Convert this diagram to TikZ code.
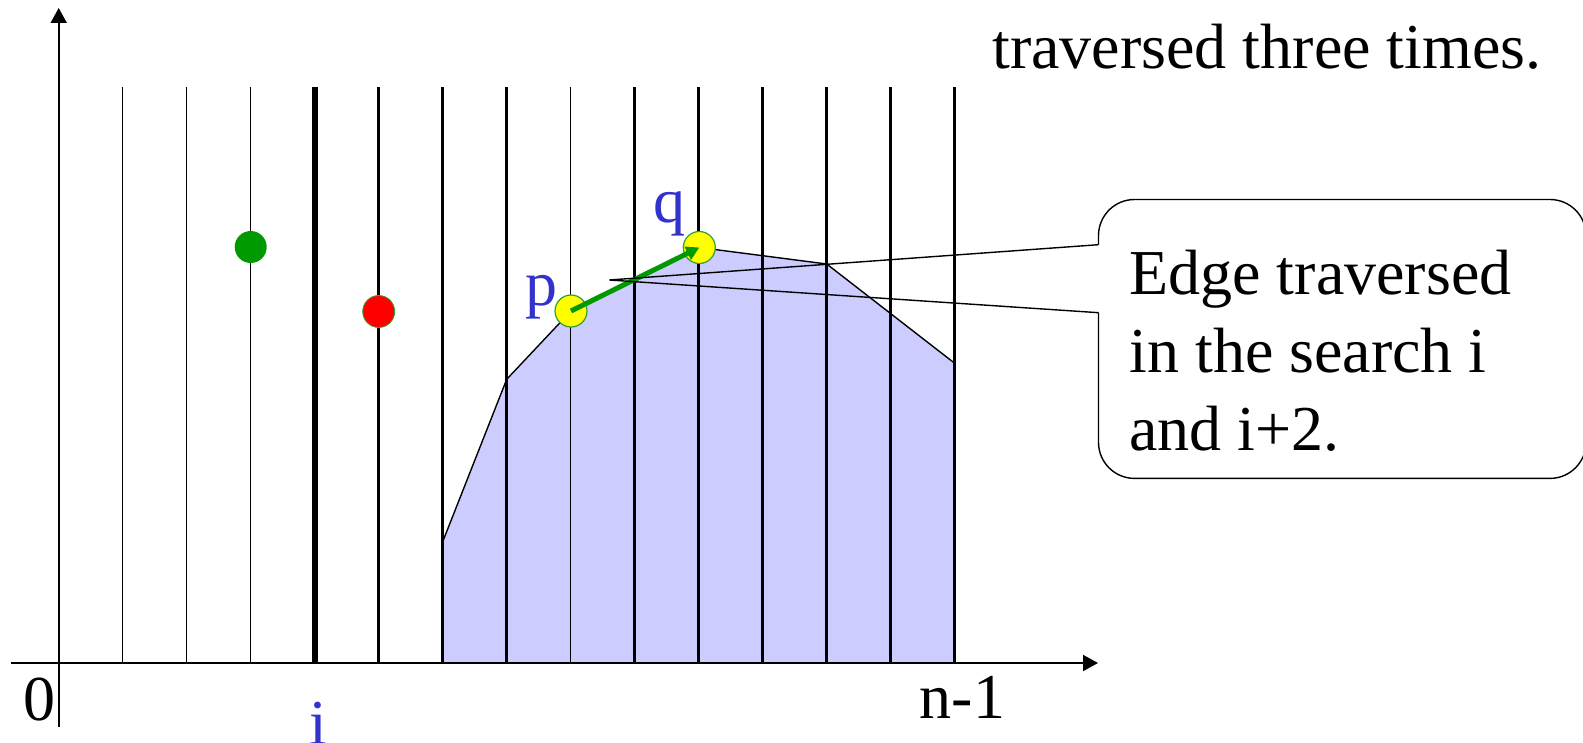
\documentclass[tikz,border=0pt]{standalone}
\usepackage{fontspec}
\setmainfont{Liberation Serif}
\usetikzlibrary{arrows.meta}
\definecolor{lblue}{HTML}{3333CC}
\definecolor{hullfill}{HTML}{CCCCFF}
\definecolor{dgreen}{HTML}{009900}
\definecolor{pred}{HTML}{FF0000}
\definecolor{pyellow}{HTML}{FFFF00}
\definecolor{rimgreen}{HTML}{33A033}
\tikzset{
  txt/.style={font=\fontsize{32}{39}\selectfont, inner sep=0pt},
  bluetxt/.style={txt, text=lblue},
  thinline/.style={line width=0.5pt},
  medline/.style={line width=1.4pt},
  thickline/.style={line width=2.8pt},
  axisline/.style={line width=1pt, -{Triangle[length=7.5pt,width=8pt]}},
  dot/.style={circle, minimum size=16pt, inner sep=0pt},
  hullstyle/.style={fill=hullfill, draw=black, line width=0.7pt, line join=miter},
  callout/.style={draw=black, line width=0.7pt},
}
\begin{document}
\begin{tikzpicture}[x=0.5pt,y=-0.5pt]
\useasboundingbox (0,0) rectangle (1583,743);

% hull
\filldraw[hullstyle] (442.7,663) -- (442.7,541.7) -- (506.7,379.3) -- (571,311)
  -- (699.3,247.5) -- (826.7,264) -- (954.7,363.3) -- (954.7,663) -- cycle;

% vertical lines
\foreach \k in {1,2,3,8} \draw[thinline] ({58.7+64*\k},87.3) -- ({58.7+64*\k},663);
\foreach \k in {5,6,7,9,10,11,12,13,14} \draw[medline] ({58.7+64*\k},87.3) -- ({58.7+64*\k},663);
\draw[thickline] ({58.7+64*4},87.3) -- ({58.7+64*4},663);

% axes
\coordinate (xs) at (11,663);
\coordinate (xe) at (1098,663);
\coordinate (ys) at (58.7,727);
\coordinate (ye) at (58.7,8);
\draw[axisline] (xs) -- (xe);
\draw[axisline] (ys) -- (ye);

% points
\node[dot, fill=dgreen] (g) at (250.7,247) {};
\node[dot, fill=pred, draw=rimgreen, line width=0.4pt] (r) at (378.7,311.5) {};
\node[dot, fill=pyellow, draw=rimgreen, line width=0.6pt] (p) at (571,311) {};
\node[dot, fill=pyellow, draw=rimgreen, line width=0.6pt] (q) at (699.3,247.5) {};
\draw[dgreen, line width=2.5pt, -{Triangle[length=6.5pt,width=7pt]}] (p.center) -- (q.center);

% labels
\node[bluetxt, anchor=base] (plabel) at (541.7,305) {p};
\node[bluetxt, anchor=base] (qlabel) at (669,223) {q};
\node[bluetxt, anchor=base] (ilabel) at (318.3,744) {i};
\node[txt, anchor=base] (zero) at (39.2,720) {0};
\node[txt, anchor=base] (nm1) at (962.5,718.3) {n-1};
\node[txt, anchor=base west] (top) at (992,68.7) {traversed three times.};

% callout
\coordinate (tip) at (609.3,280);
\coordinate (ja) at (1098.5,244.7);
\coordinate (jb) at (1098.5,312.7);
\draw[callout, rounded corners=18pt] (ja) -- (1098.5,199.5) -- (1586,199.5)
  -- (1586,478.4) -- (1098.5,478.4) -- (jb);
\draw[callout, line join=miter] (ja) -- (tip) -- (jb);
\node[txt, anchor=base west] (note) at (1129,294)
  {\begin{tabular}[t]{@{}l@{}}Edge traversed\\in the search i\\and i+2.\end{tabular}};
\end{tikzpicture}
\end{document}
